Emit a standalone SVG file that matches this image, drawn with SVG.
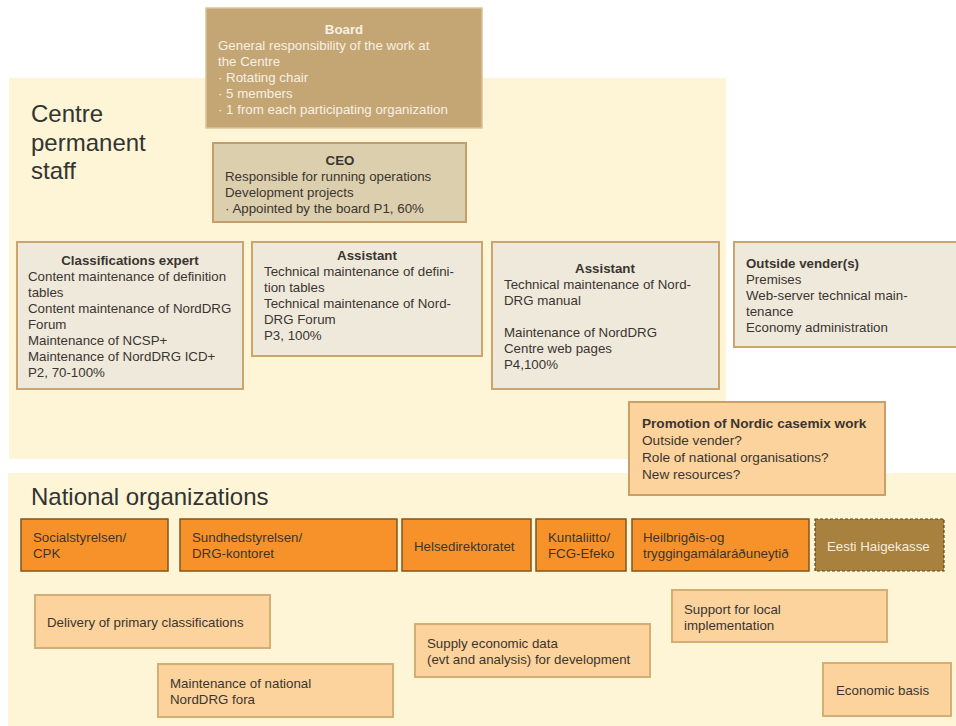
<svg xmlns="http://www.w3.org/2000/svg" width="956" height="726" viewBox="0 0 956 726">
  <style>
    text { font-family: "Liberation Sans", Arial, sans-serif; font-size: 13.3px; fill: #3a3530; }
    .b { font-weight: bold; }
    .mid { text-anchor: middle; }
    .head { font-size: 24px; fill: #333; }
    .panel { fill: #fdf5d6; }
    .board { fill: #c4a574; stroke: #d9c29a; stroke-width: 1.5; }
    .board-t { fill: #f8f0e2; }
    .ceo { fill: #dccfae; stroke: #c29f6a; stroke-width: 2; }
    .staff { fill: #efe9dc; stroke: #c9a56f; stroke-width: 2; }
    .promo { fill: #fcd39c; stroke: #c9a06a; stroke-width: 2; }
    .org { fill: #f7922b; stroke: #7f561f; stroke-width: 1.5; }
    .eesti { fill: #a8813f; stroke: #5e4520; stroke-width: 1.2; stroke-dasharray: 3 2; }
    .eesti-t { fill: #f6eedc; }
    .task { fill: #fcd39d; stroke: #d5ae76; stroke-width: 2; }
  </style>

  <rect width="956" height="726" fill="#ffffff"/>

  <!-- background areas -->
  <rect class="panel" x="9" y="78" width="717" height="381"/>
  <rect class="panel" x="8" y="473" width="948" height="253"/>
  <text class="head" x="31" y="122">Centre</text>
  <text class="head" x="31" y="151">permanent</text>
  <text class="head" x="31" y="179">staff</text>
  <text class="head" x="31" y="505">National organizations</text>

  <g id="board">
    <rect class="board" x="206" y="8" width="276" height="120"/>
    <text class="b mid board-t" x="344" y="34">Board</text>
    <text class="board-t" x="218" y="50">General responsibility of the work at</text>
    <text class="board-t" x="218" y="66">the Centre</text>
    <text class="board-t" x="218" y="82">· Rotating chair</text>
    <text class="board-t" x="218" y="98">· 5 members</text>
    <text class="board-t" x="218" y="114">· 1 from each participating organization</text>
  </g>

  <g id="ceo">
    <rect class="ceo" x="213" y="143" width="253" height="79"/>
    <text class="b mid" x="340" y="165">CEO</text>
    <text x="225" y="181">Responsible for running operations</text>
    <text x="225" y="197">Development projects</text>
    <text x="225" y="213">· Appointed by the board P1, 60%</text>
  </g>

  <g id="classifications-expert">
    <rect class="staff" x="17" y="242" width="226" height="147"/>
    <text class="b mid" x="130" y="265">Classifications expert</text>
    <text x="28" y="281">Content maintenance of definition</text>
    <text x="28" y="297">tables</text>
    <text x="28" y="313">Content maintenance of NordDRG</text>
    <text x="28" y="329">Forum</text>
    <text x="28" y="345">Maintenance of NCSP+</text>
    <text x="28" y="361">Maintenance of NordDRG ICD+</text>
    <text x="28" y="377">P2, 70-100%</text>
  </g>

  <g id="assistant-1">
    <rect class="staff" x="252" y="242" width="230" height="114"/>
    <text class="b mid" x="367" y="260">Assistant</text>
    <text x="264" y="276">Technical maintenance of defini-</text>
    <text x="264" y="292">tion tables</text>
    <text x="264" y="308">Technical maintenance of Nord-</text>
    <text x="264" y="324">DRG Forum</text>
    <text x="264" y="340">P3, 100%</text>
  </g>

  <g id="assistant-2">
    <rect class="staff" x="492" y="242" width="227" height="147"/>
    <text class="b mid" x="605" y="273">Assistant</text>
    <text x="504" y="289">Technical maintenance of Nord-</text>
    <text x="504" y="305">DRG manual</text>
    <text x="504" y="337">Maintenance of NordDRG</text>
    <text x="504" y="353">Centre web pages</text>
    <text x="504" y="369">P4,100%</text>
  </g>

  <g id="outside-vendors">
    <rect class="staff" x="734" y="242" width="230" height="105"/>
    <text class="b" x="746" y="268">Outside vender(s)</text>
    <text x="746" y="284">Premises</text>
    <text x="746" y="300">Web-server technical main-</text>
    <text x="746" y="316">tenance</text>
    <text x="746" y="332">Economy administration</text>
  </g>

  <g id="promotion">
    <rect class="promo" x="629" y="402" width="256" height="93"/>
    <text class="b" x="642" y="428" style="font-size:13.6px">Promotion of Nordic casemix work</text>
    <text x="642" y="445" style="font-size:13.6px">Outside vender?</text>
    <text x="642" y="462" style="font-size:13.6px">Role of national organisations?</text>
    <text x="642" y="479" style="font-size:13.6px">New resources?</text>
  </g>

  <g id="socialstyrelsen">
    <rect class="org" x="21" y="519" width="147" height="52"/>
    <text x="33" y="542">Socialstyrelsen/</text>
    <text x="33" y="558">CPK</text>
  </g>
  <g id="sundhedsstyrelsen">
    <rect class="org" x="180" y="519" width="217" height="52"/>
    <text x="192" y="542">Sundhedstyrelsen/</text>
    <text x="192" y="558">DRG-kontoret</text>
  </g>
  <g id="helsedirektoratet">
    <rect class="org" x="402" y="519" width="129" height="52"/>
    <text x="414" y="551">Helsedirektoratet</text>
  </g>
  <g id="kuntaliitto">
    <rect class="org" x="536" y="519" width="90" height="52"/>
    <text x="548" y="542">Kuntaliitto/</text>
    <text x="548" y="558">FCG-Efeko</text>
  </g>
  <g id="heilbrigdis">
    <rect class="org" x="632" y="519" width="177" height="52"/>
    <text x="643" y="542">Heilbrigðis-og</text>
    <text x="643" y="558">tryggingamálaráðuneytið</text>
  </g>
  <g id="eesti-haigekasse">
    <rect class="eesti" x="815" y="519" width="129" height="52"/>
    <text class="eesti-t" x="827" y="551">Eesti Haigekasse</text>
  </g>

  <g id="delivery">
    <rect class="task" x="35" y="595" width="235" height="53"/>
    <text x="47" y="627">Delivery of primary classifications</text>
  </g>
  <g id="national-fora">
    <rect class="task" x="158" y="664" width="235" height="53"/>
    <text x="170" y="688">Maintenance of national</text>
    <text x="170" y="704">NordDRG fora</text>
  </g>
  <g id="economic-data">
    <rect class="task" x="415" y="624" width="235" height="53"/>
    <text x="427" y="648">Supply economic data</text>
    <text x="427" y="664">(evt and analysis) for development</text>
  </g>
  <g id="local-support">
    <rect class="task" x="672" y="590" width="215" height="52"/>
    <text x="684" y="614">Support for local</text>
    <text x="684" y="630">implementation</text>
  </g>
  <g id="economic-basis">
    <rect class="task" x="823" y="663" width="128" height="53"/>
    <text x="836" y="695">Economic basis</text>
  </g>

  <!-- this chart has no connectors -->
  <g id="connectors"/>
</svg>
